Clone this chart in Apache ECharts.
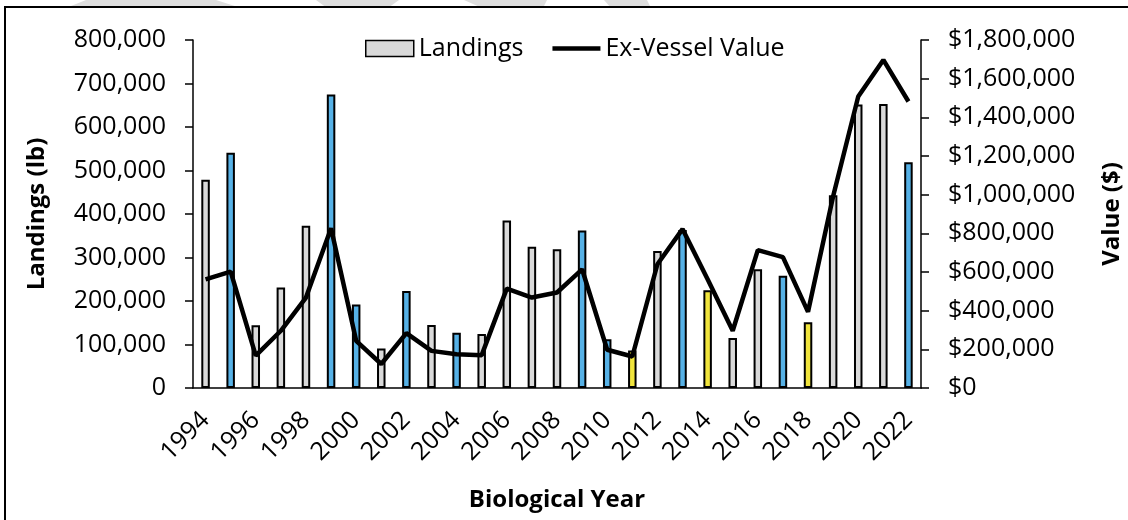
<!DOCTYPE html>
<html lang="en">
<head>
    <meta charset="UTF-8">
    <title>Landings and Ex-Vessel Value</title>
    <script src="https://cdn.jsdelivr.net/npm/echarts@6/dist/echarts.min.js"></script>
</head>
<style>
html,body{margin: 0;padding: 0;background: #fff}
#chartBox{width: 1128px;height: 520px}
</style>
<body>
    <div id="chartBox"></div>
</body>
<script>
// biological years
const years = ['1994','1995','1996','1997','1998','1999','2000','2001','2002','2003',
    '2004','2005','2006','2007','2008','2009','2010','2011','2012','2013',
    '2014','2015','2016','2017','2018','2019','2020','2021','2022'];

// landings (lb)
const landings = [479000, 541000, 144000, 231000, 373000, 675000, 192000, 91000, 223000, 145000,
    127000, 124000, 385000, 325000, 319000, 362000, 112000, 86000, 315000, 363000,
    225000, 115000, 273000, 258000, 151000, 443000, 652000, 653000, 519000];

// ex-vessel value ($)
const exValue = [562000, 602000, 167000, 296000, 468000, 826000, 244000, 124000, 284000, 192000,
    175000, 170000, 514000, 468000, 494000, 614000, 198000, 163000, 640000, 822000,
    562000, 296000, 713000, 677000, 394000, 992000, 1508000, 1697000, 1482000];

// bar group per year: g = grey, b = blue, y = yellow
const barGroup = ['g','b','g','g','g','b','b','g','b','g',
    'b','g','g','g','g','b','b','y','g','b',
    'y','g','g','b','y','g','g','g','b'];

const groupColor = {g: '#d9d9d9', b: '#56b1e6', y: '#f0e43c'};
const fontName = 'Open Sans';

function withCommas(v){
    return String(v).replace(/\B(?=(\d{3})+(?!\d))/g, ',');
}

// faint watermark pieces peeking above the frame
function markPiece(points){
    return {type: 'polygon', shape: {points: points}, style: {fill: '#dedede'}, silent: true, z: -1};
}

let chartObj = echarts.init(document.getElementById('chartBox'));
chartObj.setOption({
    animation: false,
    textStyle: {fontFamily: fontName, color: '#000'},
    graphic: [
        markPiece([[86, 0], [216, 0], [241, 8], [66, 8]]),
        markPiece([[316, 0], [399, 0], [388, 8], [327, 8]]),
        markPiece([[464, 0], [547, 0], [543, 8], [482, 8]]),
        markPiece([[604, 0], [647, 0], [651, 8], [611, 8]]),
        {
            type: 'rect',
            shape: {x: 5, y: 7, width: 1140, height: 540},
            style: {fill: '#fff', stroke: '#000', lineWidth: 2},
            silent: true,
            z: -1
        }
    ],
    grid: {left: 193, right: 207, top: 40, bottom: 132, outerBoundsMode: 'none', containLabel: false},
    legend: {
        left: 360,
        top: 31,
        itemGap: 29,
        itemWidth: 48,
        itemHeight: 16,
        textStyle: {fontSize: 25, fontFamily: fontName, color: '#000'},
        data: [
            {name: 'Landings', icon: 'rect', itemStyle: {color: '#d9d9d9', borderColor: '#000', borderWidth: 1.5}},
            {name: 'Ex-Vessel Value', icon: 'path://M0,0h48v4.5h-48z', itemStyle: {color: '#000'}}
        ]
    },
    xAxis: {
        type: 'category',
        data: years,
        name: 'Biological Year',
        nameLocation: 'middle',
        nameGap: 100,
        nameTextStyle: {fontSize: 24, fontWeight: 'bold', fontFamily: fontName, color: '#000'},
        axisLine: {lineStyle: {color: '#000', width: 1.5}},
        axisTick: {length: 8, lineStyle: {color: '#000', width: 1.5}},
        axisLabel: {interval: 1, rotate: 45, fontSize: 25, color: '#000', margin: 28}
    },
    yAxis: [
        {
            type: 'value',
            min: 0,
            max: 800000,
            interval: 100000,
            name: 'Landings (lb)',
            nameLocation: 'middle',
            nameGap: 144,
            nameTextStyle: {fontSize: 24, fontWeight: 'bold', fontFamily: fontName, color: '#000'},
            splitLine: {show: false},
            axisLine: {show: true, lineStyle: {color: '#000', width: 1.5}},
            axisTick: {show: true, length: 8, lineStyle: {color: '#000', width: 1.5}},
            axisLabel: {fontSize: 25, color: '#000', margin: 27, formatter: v => withCommas(v)}
        },
        {
            type: 'value',
            min: 0,
            max: 1800000,
            interval: 200000,
            position: 'right',
            name: 'Value ($)',
            nameLocation: 'middle',
            nameGap: 179,
            nameTextStyle: {fontSize: 24, fontWeight: 'bold', fontFamily: fontName, color: '#000'},
            splitLine: {show: false},
            axisLine: {show: true, lineStyle: {color: '#000', width: 1.5}},
            axisTick: {show: true, length: 8, lineStyle: {color: '#000', width: 1.5}},
            axisLabel: {fontSize: 25, color: '#000', margin: 27, formatter: v => '$' + withCommas(v)}
        }
    ],
    series: [
        {
            type: 'bar',
            name: 'Landings',
            barWidth: 8.5,
            data: landings.map((v, i) => ({
                value: v,
                itemStyle: {color: groupColor[barGroup[i]]}
            })),
            itemStyle: {borderColor: '#000', borderWidth: 2}
        },
        {
            type: 'line',
            name: 'Ex-Vessel Value',
            yAxisIndex: 1,
            symbol: 'none',
            lineStyle: {color: '#000', width: 4.5},
            itemStyle: {color: '#000'},
            data: exValue
        }
    ]
});
</script>
</html>
